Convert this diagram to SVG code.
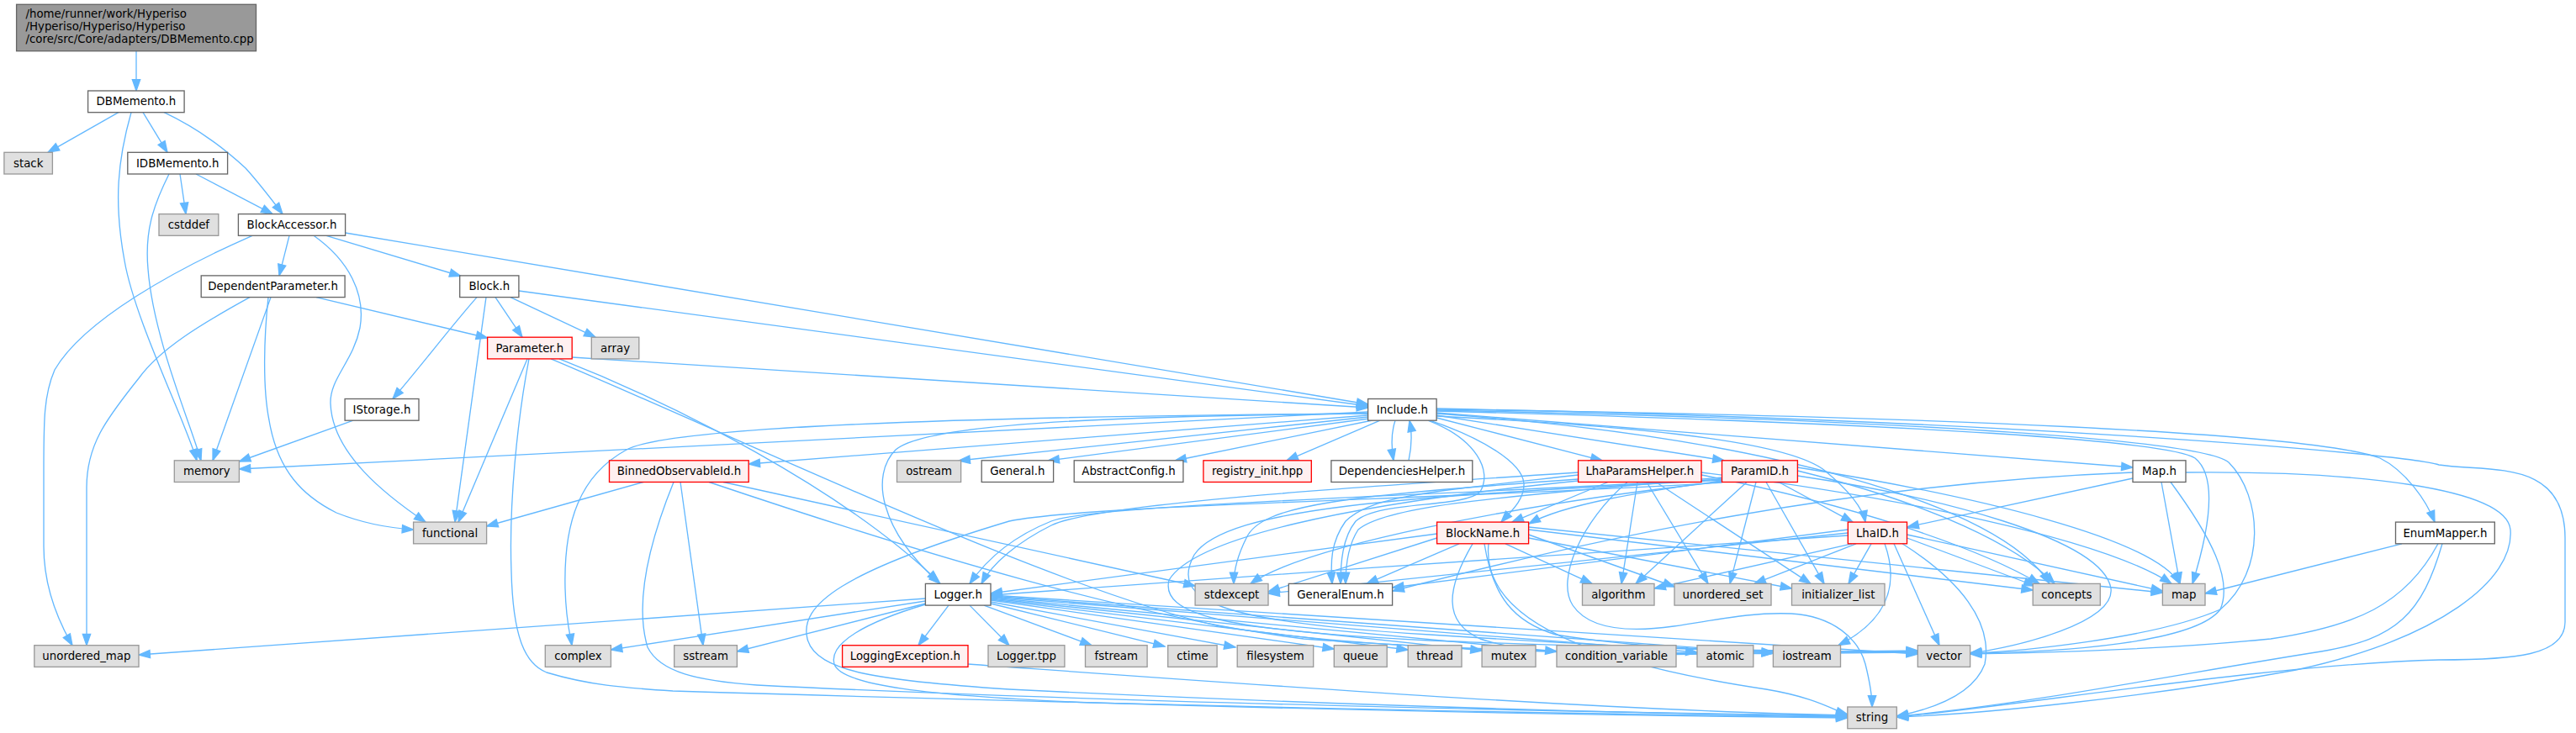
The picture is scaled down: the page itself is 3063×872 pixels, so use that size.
<svg xmlns="http://www.w3.org/2000/svg" width="3063" height="872" viewBox="0 0 3063 872">
<style>
.e{fill:none;stroke:#63b8ff;stroke-width:1.33;marker-end:url(#ah)}
.n rect{fill:#ffffff;stroke:#666666;stroke-width:1.33}
.x rect{fill:#e0e0e0;stroke:#999999;stroke-width:1.33}
.r rect{fill:#fff0f0;stroke:#ff0000;stroke-width:1.33}
.root rect{fill:#999999;stroke:#666666;stroke-width:1.33}
text{font-family:"DejaVu Sans",sans-serif;font-size:13.33px;text-anchor:middle;fill:#000000}
.root text{text-anchor:start}
</style>
<defs>
<marker id="ah" markerUnits="userSpaceOnUse" markerWidth="14" markerHeight="10" refX="13.3" refY="4.67" orient="auto" overflow="visible"><path d="M0,0L13.3,4.67L0,9.33z" fill="#63b8ff" stroke="#63b8ff" stroke-width="1.33"/></marker>
</defs>
<rect width="3063" height="872" fill="#ffffff"/>
<g id="edges">
<path class="e" d="M162,60.7 L162,108"/>
<path class="e" d="M141,133.7 L57,181.3"/>
<path class="e" d="M156,133.7 C140,190 135,240 148,310 C160,380 220,500 234,547.8"/>
<path class="e" d="M170,133.7 L199,181.3"/>
<path class="e" d="M195,133.7 C240,155 270,180 292,200 C310,220 325,240 336,254.6"/>
<path class="e" d="M214,207 L221,254.6"/>
<path class="e" d="M233,207 L324,254.6"/>
<path class="e" d="M201,207 C182,245 172,275 176,320 C182,400 225,500 239,547.8"/>
<path class="e" d="M300,280.3 C210,320 100,380 65,440 C52,470 52,500 52,560 L52,650 C52,700 70,740 86,767.7"/>
<path class="e" d="M344,280.3 L332,327.9"/>
<path class="e" d="M373,280.3 C415,310 435,350 428,390 C420,430 392,450 393,480 C395,540 460,590 506,621.1"/>
<path class="e" d="M388,280.3 L548,328.5"/>
<path class="e" d="M410.6,277 L1626.6,481"/>
<path class="e" d="M297,353.6 C240,385 190,415 165,450 C125,500 103,530 103,580 L103,767.7"/>
<path class="e" d="M322,353.6 L253,547.8"/>
<path class="e" d="M319,353.6 C314,400 312,460 320,500 C330,560 360,590 400,610 C430,622 460,628 491.6,630"/>
<path class="e" d="M376,353.6 L579.6,402"/>
<path class="e" d="M567,353.6 C535,390 505,430 467,474.5"/>
<path class="e" d="M578,353.6 L541,621.1"/>
<path class="e" d="M589,353.6 L621,401.2"/>
<path class="e" d="M607,353.6 L708,401.2"/>
<path class="e" d="M616.9,346 L1626.6,483"/>
<path class="e" d="M680.2,425 L1626.6,485"/>
<path class="e" d="M627,426.9 L545,621.1"/>
<path class="e" d="M629,426.9 C615,500 605,600 608,680 C610,760 625,790 650,800 C700,815 740,818 800,822 C1400,840 1900,850 2196.8,853"/>
<path class="e" d="M665,426.9 C800,480 1000,580 1116,692"/>
<path class="e" d="M655,426.9 C900,530 1250,700 1450,745 C1700,785 2100,778 2280.3,776"/>
<path class="e" d="M420,500.2 L284.4,549"/>
<path class="e" d="M1626.6,490 L284.4,558"/>
<path class="e" d="M1626.6,492 C1200,495 800,505 745,535 C690,565 670,620 672,700 C673,740 678,755 680,767.7"/>
<path class="e" d="M1626.6,494 L890.2,552"/>
<path class="e" d="M1626.6,496 L1140,548"/>
<path class="e" d="M1628,498 L1246,548"/>
<path class="e" d="M1632,500 L1397,548"/>
<path class="e" d="M1641,500.2 L1530,547.8"/>
<path class="e" d="M1659,500.2 C1654,515 1654,530 1657,547.8"/>
<path class="e" d="M1675,547.8 C1679,530 1679,515 1676,500.2"/>
<path class="e" d="M1708.1,497 L1905,547.8"/>
<path class="e" d="M1708.1,494 L2050,547.8"/>
<path class="e" d="M1700,500.2 C1760,520 1810,550 1812,575 C1813,595 1795,610 1785,621.1"/>
<path class="e" d="M1698,500.2 C1755,522 1775,560 1760,585 C1740,605 1640,595 1612,620 C1596,640 1594,670 1594,694.4"/>
<path class="e" d="M1708.1,495 C1900,505 2120,520 2170,560 C2200,585 2215,605 2218,621.1"/>
<path class="e" d="M1708.1,491 L2536,556"/>
<path class="e" d="M1708.1,487 C2300,495 2750,515 2830,545 C2860,560 2885,595 2895,621.1"/>
<path class="e" d="M1708.1,489 C2300,505 2580,525 2610,545 C2635,565 2630,620 2607,694.4"/>
<path class="e" d="M1708.1,488 C2300,500 2620,525 2650,550 C2690,590 2695,680 2640,725 C2560,760 2400,775 2342.6,777"/>
<path class="e" d="M1708.1,486 C2400,500 2860,540 2900,553 C2960,562 3050,545 3050,640 L3050,740 C3050,780 2990,785 2900,785 C2700,790 2400,840 2255.3,853"/>
<path class="e" d="M1626.6,492 C1300,495 1100,505 1065,535 C1035,565 1045,630 1118,694.4"/>
<path class="e" d="M1708.1,492 C2100,520 2380,600 2437,694.4"/>
<path class="e" d="M765,573.5 L578.6,626"/>
<path class="e" d="M809,573.5 L836,767.7"/>
<path class="e" d="M801,573.5 C770,650 755,720 770,770 C785,800 830,810 900,815 C1300,835 1900,848 2196.8,851"/>
<path class="e" d="M860,573.5 L1421.1,697"/>
<path class="e" d="M843,573.5 C1100,660 1350,735 1550,760 C1850,782 2150,777 2280.3,775"/>
<path class="e" d="M1100.4,712 L165,779"/>
<path class="e" d="M1100.4,715 L726.4,773"/>
<path class="e" d="M1100.4,718 L876.4,775"/>
<path class="e" d="M1128,720.1 L1092,767.7"/>
<path class="e" d="M1153,720.1 L1200,767.7"/>
<path class="e" d="M1170,720.1 L1298,767.7"/>
<path class="e" d="M1178,718 L1385,769"/>
<path class="e" d="M1178,716 L1469,770"/>
<path class="e" d="M1178,714 L1586.3,772"/>
<path class="e" d="M1178,713 L1674.2,773"/>
<path class="e" d="M1178,712 L1762.1,774"/>
<path class="e" d="M1178,711 L1851,775"/>
<path class="e" d="M1178,710 L2018,776"/>
<path class="e" d="M1178,709 L2108.4,777"/>
<path class="e" d="M1178,708 L2280.3,778"/>
<path class="e" d="M1100.4,719 C1030,740 985,765 992,790 C1000,815 1100,828 1300,836 C1700,848 2000,852 2196.8,854"/>
<path class="e" d="M1151,790 C1500,815 1900,845 2196.8,851"/>
<path class="e" d="M1912,573.5 L1798,621.1"/>
<path class="e" d="M1947,573.5 L1928,694.4"/>
<path class="e" d="M1958,573.5 L2031,694.4"/>
<path class="e" d="M1969,573.5 L2153,694.4"/>
<path class="e" d="M1935,573.5 C1880,620 1850,690 1870,720 C1890,750 1940,752 1990,745 C2040,738 2080,728 2130,730 C2180,733 2210,760 2218,790 C2223,810 2226,830 2226,841"/>
<path class="e" d="M1876.6,562 C1600,580 1300,600 1250,625 C1210,645 1180,670 1167,694.4"/>
<path class="e" d="M1876.6,565 C1700,585 1630,590 1600,620 C1582,645 1582,670 1584,694.4"/>
<path class="e" d="M1876.6,570 C1600,590 1500,600 1482,640 C1472,660 1467,680 1467,694.4"/>
<path class="e" d="M2023,565 C2200,600 2350,650 2425,694.4"/>
<path class="e" d="M2023,562 C2250,590 2500,640 2582,694.4"/>
<path class="e" d="M1876.6,572 C1600,600 1420,640 1390,690 C1380,730 1450,750 1700,762 C1950,772 2200,776 2280.3,776"/>
<path class="e" d="M2047.5,572 C1950,585 1860,600 1818,623"/>
<path class="e" d="M2077,573.5 L1945,694.4"/>
<path class="e" d="M2088,573.5 L2057,694.4"/>
<path class="e" d="M2100,573.5 L2169,694.4"/>
<path class="e" d="M2115,573.5 L2203,621.1"/>
<path class="e" d="M2047.5,570 C1700,590 1300,600 1250,620 C1200,640 1170,670 1153,694.4"/>
<path class="e" d="M2047.5,568 C1800,590 1650,600 1615,630 C1602,650 1600,675 1600,694.4"/>
<path class="e" d="M2047.5,573 C1800,600 1550,650 1487,694.4"/>
<path class="e" d="M2137.4,560 C2300,600 2400,650 2443,694.4"/>
<path class="e" d="M2137.4,556 C2350,590 2560,640 2592,694.4"/>
<path class="e" d="M2137.4,566 C2300,590 2500,640 2510,700 C2515,740 2400,770 2342.6,777"/>
<path class="e" d="M2047.5,571 C1700,590 1460,600 1420,660 C1390,715 1450,740 1700,755 C1900,768 2050,774 2108.4,776"/>
<path class="e" d="M2047.5,574 C1700,595 1300,600 1200,620 C1000,680 950,720 960,760 C970,800 1050,810 1200,820 C1600,840 2000,850 2196.8,852"/>
<path class="e" d="M1708.6,635 L1178,706"/>
<path class="e" d="M1735,646.8 L1625,694.4"/>
<path class="e" d="M1751,646.8 C1720,700 1715,740 1760,760 C1850,790 2050,775 2108.4,777"/>
<path class="e" d="M1765,646.8 C1775,710 1800,740 1850,755 C2000,780 2200,775 2280.3,774"/>
<path class="e" d="M1790,646.8 L1893,694.4"/>
<path class="e" d="M1817.6,636 L1991,698"/>
<path class="e" d="M1817.6,640 L2130.5,700"/>
<path class="e" d="M1817.6,630 L2417.2,702"/>
<path class="e" d="M1817.6,627 L2571.4,705"/>
<path class="e" d="M1708.6,640 L1508,704"/>
<path class="e" d="M1770,646.8 C1760,740 1900,790 2100,820 C2160,830 2180,845 2196.8,850"/>
<path class="e" d="M2197.3,630 L1655.6,699"/>
<path class="e" d="M2197.3,634 L1508,706"/>
<path class="e" d="M2197.3,637 C1900,655 1500,685 1178,708"/>
<path class="e" d="M2202,646.8 L1967,700"/>
<path class="e" d="M2207,646.8 L2086,694.4"/>
<path class="e" d="M2225,646.8 L2198,694.4"/>
<path class="e" d="M2241,646.8 C2260,700 2240,740 2186,767.7"/>
<path class="e" d="M2252,646.8 L2306,767.7"/>
<path class="e" d="M2267.5,640 L2420,697"/>
<path class="e" d="M2267.5,636 L2571.4,703"/>
<path class="e" d="M2262,646.8 C2330,690 2370,740 2360,790 C2345,830 2290,845 2255.3,852"/>
<path class="e" d="M2536,569 L2268,627"/>
<path class="e" d="M2536,562 C2200,575 1900,640 1656,703"/>
<path class="e" d="M2570,573.5 L2592,694.4"/>
<path class="e" d="M2581,573.5 C2630,640 2655,690 2640,725 C2610,765 2450,776 2342.6,777"/>
<path class="e" d="M2599,562 C2800,560 2980,580 2985,630 C2990,690 2900,760 2730,797 C2550,830 2350,850 2255.3,853"/>
<path class="e" d="M2856,646.8 L2622,706"/>
<path class="e" d="M2899,646.8 C2860,720 2800,745 2700,760 C2550,775 2400,777 2342.6,778"/>
<path class="e" d="M2904,646.8 C2880,730 2850,760 2760,775 C2600,800 2400,840 2255.3,852"/>
</g>
<g id="node_root" class="root"><rect x="19.6" y="5.3" width="284.9" height="55.4"/><text x="30.5" y="21.4">/home/runner/work/Hyperiso</text><text x="30.5" y="36.4">/Hyperiso/Hyperiso/Hyperiso</text><text x="30.5" y="51.4">/core/src/Core/adapters/DBMemento.cpp</text></g>
<g id="node_DBMemento_h" class="n"><rect x="104.6" y="108" width="114.5" height="25.7"/><text x="161.9" y="125.4">DBMemento.h</text></g>
<g id="node_stack" class="x"><rect x="4.9" y="181.3" width="57.5" height="25.7"/><text x="33.7" y="198.7">stack</text></g>
<g id="node_IDBMemento_h" class="n"><rect x="151.8" y="181.3" width="118.8" height="25.7"/><text x="211.2" y="198.7">IDBMemento.h</text></g>
<g id="node_cstddef" class="x"><rect x="189" y="254.6" width="70.8" height="25.7"/><text x="224.4" y="272">cstddef</text></g>
<g id="node_BlockAccessor_h" class="n"><rect x="283.4" y="254.6" width="127.2" height="25.7"/><text x="347" y="272">BlockAccessor.h</text></g>
<g id="node_DependentParameter_h" class="n"><rect x="239.2" y="327.9" width="170.9" height="25.7"/><text x="324.7" y="345.3">DependentParameter.h</text></g>
<g id="node_Block_h" class="n"><rect x="546.7" y="327.9" width="70.2" height="25.7"/><text x="581.8" y="345.3">Block.h</text></g>
<g id="node_Parameter_h" class="r"><rect x="579.6" y="401.2" width="100.6" height="25.7"/><text x="629.9" y="418.6">Parameter.h</text></g>
<g id="node_array" class="x"><rect x="703.3" y="401.2" width="56.5" height="25.7"/><text x="731.6" y="418.6">array</text></g>
<g id="node_IStorage_h" class="n"><rect x="410.1" y="474.5" width="87.9" height="25.7"/><text x="454" y="491.9">IStorage.h</text></g>
<g id="node_Include_h" class="n"><rect x="1626.6" y="474.5" width="81.5" height="25.7"/><text x="1667.4" y="491.9">Include.h</text></g>
<g id="node_memory" class="x"><rect x="207.3" y="547.8" width="77.1" height="25.7"/><text x="245.9" y="565.2">memory</text></g>
<g id="node_BinnedObservableId_h" class="r"><rect x="724.5" y="547.8" width="165.7" height="25.7"/><text x="807.4" y="565.2">BinnedObservableId.h</text></g>
<g id="node_ostream" class="x"><rect x="1066.5" y="547.8" width="76.1" height="25.7"/><text x="1104.6" y="565.2">ostream</text></g>
<g id="node_General_h" class="n"><rect x="1167.2" y="547.8" width="85.4" height="25.7"/><text x="1209.9" y="565.2">General.h</text></g>
<g id="node_AbstractConfig_h" class="n"><rect x="1277.2" y="547.8" width="129.7" height="25.7"/><text x="1342" y="565.2">AbstractConfig.h</text></g>
<g id="node_registry_init_hpp" class="r"><rect x="1430.9" y="547.8" width="128.4" height="25.7"/><text x="1495.1" y="565.2">registry_init.hpp</text></g>
<g id="node_DependenciesHelper_h" class="n"><rect x="1582.9" y="547.8" width="167.9" height="25.7"/><text x="1666.9" y="565.2">DependenciesHelper.h</text></g>
<g id="node_LhaParamsHelper_h" class="r"><rect x="1876.6" y="547.8" width="146.4" height="25.7"/><text x="1949.8" y="565.2">LhaParamsHelper.h</text></g>
<g id="node_ParamID_h" class="r"><rect x="2047.5" y="547.8" width="89.9" height="25.7"/><text x="2092.5" y="565.2">ParamID.h</text></g>
<g id="node_Map_h" class="n"><rect x="2536" y="547.8" width="63" height="25.7"/><text x="2567.5" y="565.2">Map.h</text></g>
<g id="node_functional" class="x"><rect x="491.6" y="621.1" width="87" height="25.7"/><text x="535.1" y="638.5">functional</text></g>
<g id="node_BlockName_h" class="r"><rect x="1708.6" y="621.1" width="109" height="25.7"/><text x="1763.1" y="638.5">BlockName.h</text></g>
<g id="node_LhaID_h" class="r"><rect x="2197.3" y="621.1" width="70.2" height="25.7"/><text x="2232.4" y="638.5">LhaID.h</text></g>
<g id="node_EnumMapper_h" class="n"><rect x="2848.5" y="621.1" width="117.8" height="25.7"/><text x="2907.4" y="638.5">EnumMapper.h</text></g>
<g id="node_Logger_h" class="n"><rect x="1100.4" y="694.4" width="77.6" height="25.7"/><text x="1139.2" y="711.8">Logger.h</text></g>
<g id="node_stdexcept" class="x"><rect x="1421.1" y="694.4" width="86.9" height="25.7"/><text x="1464.6" y="711.8">stdexcept</text></g>
<g id="node_GeneralEnum_h" class="n"><rect x="1532.3" y="694.4" width="123.3" height="25.7"/><text x="1594" y="711.8">GeneralEnum.h</text></g>
<g id="node_algorithm" class="x"><rect x="1881.5" y="694.4" width="85.5" height="25.7"/><text x="1924.3" y="711.8">algorithm</text></g>
<g id="node_unordered_set" class="x"><rect x="1991" y="694.4" width="115" height="25.7"/><text x="2048.5" y="711.8">unordered_set</text></g>
<g id="node_initializer_list" class="x"><rect x="2130.5" y="694.4" width="110.5" height="25.7"/><text x="2185.8" y="711.8">initializer_list</text></g>
<g id="node_concepts" class="x"><rect x="2417.2" y="694.4" width="80.1" height="25.7"/><text x="2457.3" y="711.8">concepts</text></g>
<g id="node_map" class="x"><rect x="2571.4" y="694.4" width="50.6" height="25.7"/><text x="2596.7" y="711.8">map</text></g>
<g id="node_unordered_map" class="x"><rect x="40.8" y="767.7" width="124.2" height="25.7"/><text x="102.9" y="785.1">unordered_map</text></g>
<g id="node_complex" class="x"><rect x="648.3" y="767.7" width="78.1" height="25.7"/><text x="687.4" y="785.1">complex</text></g>
<g id="node_sstream" class="x"><rect x="801.7" y="767.7" width="74.7" height="25.7"/><text x="839.1" y="785.1">sstream</text></g>
<g id="node_LoggingException_h" class="r"><rect x="1001.6" y="767.7" width="149.4" height="25.7"/><text x="1076.3" y="785.1">LoggingException.h</text></g>
<g id="node_Logger_tpp" class="x"><rect x="1175" y="767.7" width="90.9" height="25.7"/><text x="1220.5" y="785.1">Logger.tpp</text></g>
<g id="node_fstream" class="x"><rect x="1290.5" y="767.7" width="73.6" height="25.7"/><text x="1327.3" y="785.1">fstream</text></g>
<g id="node_ctime" class="x"><rect x="1388.7" y="767.7" width="58.4" height="25.7"/><text x="1417.9" y="785.1">ctime</text></g>
<g id="node_filesystem" class="x"><rect x="1471.2" y="767.7" width="90.5" height="25.7"/><text x="1516.5" y="785.1">filesystem</text></g>
<g id="node_queue" class="x"><rect x="1586.3" y="767.7" width="62.9" height="25.7"/><text x="1617.8" y="785.1">queue</text></g>
<g id="node_thread" class="x"><rect x="1674.2" y="767.7" width="63.8" height="25.7"/><text x="1706.1" y="785.1">thread</text></g>
<g id="node_mutex" class="x"><rect x="1762.1" y="767.7" width="63.9" height="25.7"/><text x="1794.1" y="785.1">mutex</text></g>
<g id="node_condition_variable" class="x"><rect x="1851" y="767.7" width="142" height="25.7"/><text x="1922" y="785.1">condition_variable</text></g>
<g id="node_atomic" class="x"><rect x="2018" y="767.7" width="66.8" height="25.7"/><text x="2051.4" y="785.1">atomic</text></g>
<g id="node_iostream" class="x"><rect x="2108.4" y="767.7" width="80.1" height="25.7"/><text x="2148.5" y="785.1">iostream</text></g>
<g id="node_vector" class="x"><rect x="2280.3" y="767.7" width="62.3" height="25.7"/><text x="2311.5" y="785.1">vector</text></g>
<g id="node_string" class="x"><rect x="2196.8" y="841" width="58.5" height="25.7"/><text x="2226" y="858.4">string</text></g>
</svg>
